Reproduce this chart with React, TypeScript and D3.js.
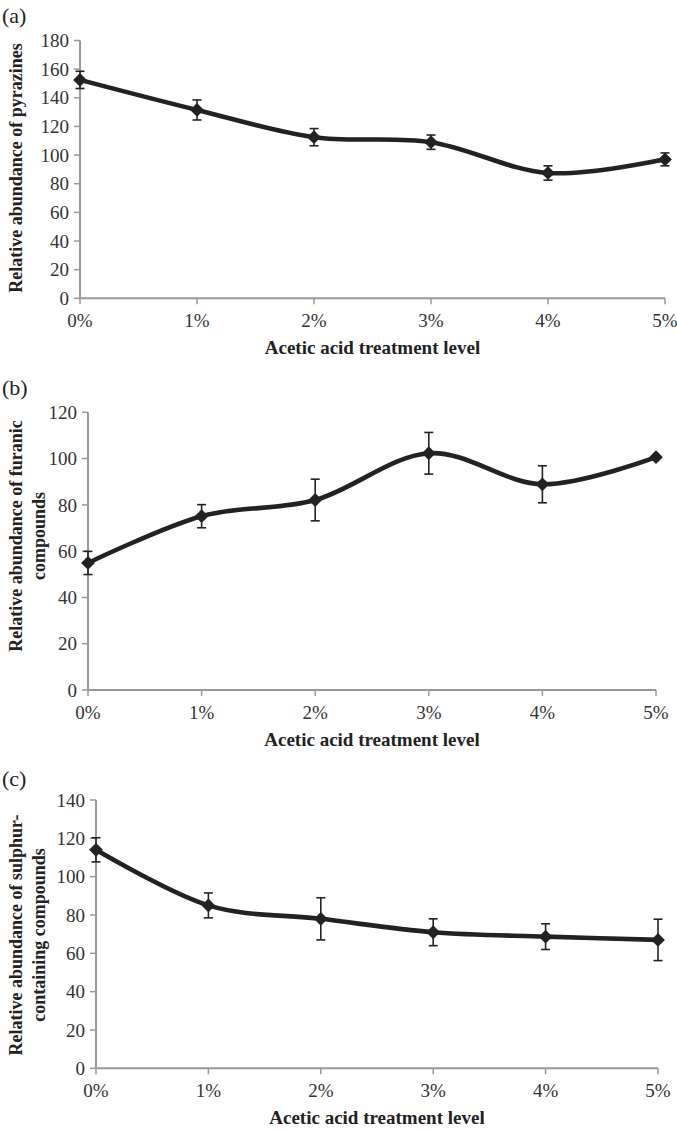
import React from "react";
import * as d3 from "d3";

const categories = ["0%", "1%", "2%", "3%", "4%", "5%"];

const pyrazines = [152.5, 131.5, 112.5, 109, 87.5, 97];
const pyrazinesErr = [6, 7, 6, 5, 5, 4.5];

const furanic = [54.9, 75.1, 82.1, 102.3, 88.9, 100.6];
const furanicErr = [5, 5, 9, 9, 8, 0];

const sulphur = [114, 85, 78, 71, 68.7, 67];
const sulphurErr = [6.3, 6.5, 11, 7, 6.7, 10.8];

const yTicksA = [0, 20, 40, 60, 80, 100, 120, 140, 160, 180];
const yTicksB = [0, 20, 40, 60, 80, 100, 120];
const yTicksC = [0, 20, 40, 60, 80, 100, 120, 140];

const xTitle = "Acetic acid treatment level";

type PanelProps = {
  tag: string;
  tagY: number;
  values: number[];
  errs: number[];
  ticks: number[];
  x0: number;
  x1: number;
  yTop: number;
  yBottom: number;
  yLabel: string[];
  yLabelCenter: number;
};

const FONT = "'Liberation Serif', 'Times New Roman', serif";
const AXIS = "#999";
const INK = "#222";

function Panel(p: PanelProps) {
  const max = p.ticks[p.ticks.length - 1];
  const x = d3.scalePoint<string>().domain(categories).range([p.x0, p.x1]);
  const y = d3.scaleLinear().domain([0, max]).range([p.yBottom, p.yTop]);
  const line = d3
    .line<number>()
    .x((_, i) => x(categories[i]) as number)
    .y((v) => y(v))
    .curve(d3.curveCatmullRom.alpha(0));
  const sym = d3.symbol().type(d3.symbolSquare).size(95)();
  const capHalf = 4.5;
  return (
    <g>
      <text x={2} y={p.tagY} fontFamily={FONT} fontSize={22} fill={INK}>
        {p.tag}
      </text>
      {/* y axis */}
      <line x1={p.x0} x2={p.x0} y1={p.yTop} y2={p.yBottom} stroke={AXIS} strokeWidth={2} />
      {p.ticks.map((t) => (
        <g key={"yt" + t}>
          <line x1={p.x0 - 6} x2={p.x0} y1={y(t)} y2={y(t)} stroke={AXIS} strokeWidth={1.5} />
          <text
            x={p.x0 - 11}
            y={y(t)}
            dy="0.35em"
            textAnchor="end"
            fontFamily={FONT}
            fontSize={19}
            fill="#333"
          >
            {t}
          </text>
        </g>
      ))}
      {/* x axis */}
      <line x1={p.x0} x2={p.x1} y1={p.yBottom} y2={p.yBottom} stroke={AXIS} strokeWidth={2} />
      {categories.map((c) => (
        <g key={"xt" + c}>
          <line
            x1={x(c)}
            x2={x(c)}
            y1={p.yBottom}
            y2={p.yBottom + 6}
            stroke={AXIS}
            strokeWidth={1.5}
          />
          <text
            x={x(c)}
            y={p.yBottom + 29}
            textAnchor="middle"
            fontFamily={FONT}
            fontSize={19}
            fill="#333"
          >
            {c}
          </text>
        </g>
      ))}
      <text
        x={(p.x0 + p.x1) / 2}
        y={p.yBottom + 56}
        textAnchor="middle"
        fontFamily={FONT}
        fontSize={19}
        fontWeight="bold"
        fill={INK}
      >
        {xTitle}
      </text>
      {/* y title */}
      {p.yLabel.map((l, i) => (
        <text
          key={"yl" + i}
          transform={`translate(${22 + i * 23},${p.yLabelCenter}) rotate(-90)`}
          textAnchor="middle"
          fontFamily={FONT}
          fontSize={18}
          fontWeight="bold"
          fill={INK}
        >
          {l}
        </text>
      ))}
      {/* error bars */}
      {p.values.map((v, i) =>
        p.errs[i] > 0 ? (
          <g key={"e" + i} stroke={INK} strokeWidth={1.6}>
            <line x1={x(categories[i])} x2={x(categories[i])} y1={y(v + p.errs[i])} y2={y(v - p.errs[i])} />
            <line
              x1={(x(categories[i]) as number) - capHalf}
              x2={(x(categories[i]) as number) + capHalf}
              y1={y(v + p.errs[i])}
              y2={y(v + p.errs[i])}
            />
            <line
              x1={(x(categories[i]) as number) - capHalf}
              x2={(x(categories[i]) as number) + capHalf}
              y1={y(v - p.errs[i])}
              y2={y(v - p.errs[i])}
            />
          </g>
        ) : null
      )}
      <path d={line(p.values) || ""} fill="none" stroke={INK} strokeWidth={4.6} strokeLinejoin="round" />
      {p.values.map((v, i) => (
        <path
          key={"m" + i}
          d={sym || ""}
          transform={`translate(${x(categories[i])},${y(v)}) rotate(45)`}
          fill={INK}
        />
      ))}
    </g>
  );
}

export default function App() {
  return (
    <svg width={677} height={1130} style={{ display: "block", position: "absolute", left: 0, top: 0 }}>
      <rect width={677} height={1130} fill="#fff" />
      <Panel
        tag="(a)"
        tagY={23}
        values={pyrazines}
        errs={pyrazinesErr}
        ticks={yTicksA}
        x0={80}
        x1={665}
        yTop={40.5}
        yBottom={298.3}
        yLabel={["Relative abundance of pyrazines"]}
        yLabelCenter={168}
      />
      <Panel
        tag="(b)"
        tagY={395}
        values={furanic}
        errs={furanicErr}
        ticks={yTicksB}
        x0={88}
        x1={656}
        yTop={412.3}
        yBottom={690}
        yLabel={["Relative abundance of furanic", "compounds"]}
        yLabelCenter={536}
      />
      <Panel
        tag="(c)"
        tagY={786}
        values={sulphur}
        errs={sulphurErr}
        ticks={yTicksC}
        x0={96}
        x1={658}
        yTop={800}
        yBottom={1068.3}
        yLabel={["Relative abundance of sulphur-", "containing compounds"]}
        yLabelCenter={935}
      />
    </svg>
  );
}
